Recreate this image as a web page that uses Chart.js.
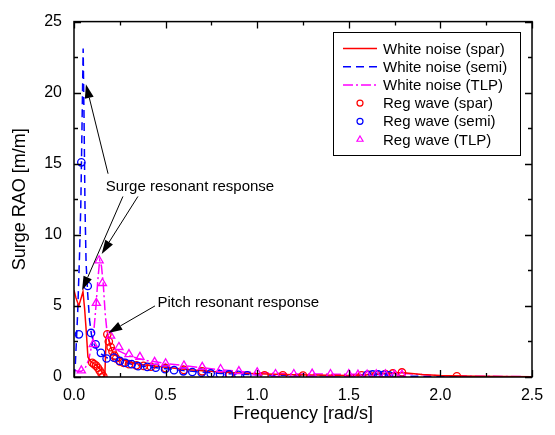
<!DOCTYPE html>
<html>
<head>
<meta charset="utf-8">
<script src="https://cdn.jsdelivr.net/npm/chart.js@4.4.0/dist/chart.umd.min.js"></script>
<style>
html,body{margin:0;padding:0;background:#fff;}
#wrap{width:555px;height:435px;position:relative;}
</style>
</head>
<body>
<div id="wrap"><canvas id="c" width="555" height="435"></canvas></div>
<script>
// ---- data ----
const wnSparFreq = [0,0.01,0.026,0.04,0.049,0.058,0.067,0.076,0.085,0.1,0.12,0.14,0.155,0.163,0.168,0.172,0.176,0.182,0.19,0.2,0.21,0.22,0.24,0.27,0.3,0.35,0.4,0.5,0.6,0.7,0.8,0.9,1.0,1.2,1.4,1.5,1.6,1.65,1.7,1.75,1.8,1.9,2.0,2.2,2.5];
const wnSparVal  = [6.1,5.6,5.0,5.6,6.0,4.8,3.2,1.4,1.2,1.0,0.85,0.6,0.3,0.12,0.0,1.5,2.8,3.0,2.6,2.1,1.8,1.6,1.4,1.2,1.05,0.92,0.82,0.68,0.55,0.44,0.35,0.28,0.22,0.15,0.12,0.1,0.15,0.2,0.25,0.3,0.3,0.18,0.1,0.05,0.02];

const wnSemiFreq = [0,0.007,0.02,0.03,0.037,0.043,0.05,0.055,0.06,0.066,0.075,0.085,0.095,0.11,0.13,0.15,0.18,0.22,0.26,0.3,0.35,0.4,0.5,0.6,0.7,0.8,0.9,1.0,1.2,1.4,1.5,1.6,1.65,1.7,1.75,1.8,2.0,2.2,2.5];
const wnSemiVal  = [0,0.8,4.5,8.5,12,17,23.1,18,12,8,5.8,4.0,3.0,2.3,1.8,1.6,1.35,1.25,1.1,0.95,0.8,0.72,0.58,0.45,0.35,0.25,0.2,0.15,0.1,0.08,0.08,0.15,0.18,0.15,0.1,0.06,0.03,0.02,0.01];

const wnTlpFreq = [0,0.02,0.04,0.06,0.08,0.1,0.11,0.12,0.13,0.14,0.15,0.16,0.17,0.18,0.19,0.2,0.22,0.25,0.3,0.35,0.4,0.5,0.6,0.7,0.8,0.9,1.0,1.2,1.4,1.6,1.8,2.0,2.5];
const wnTlpVal  = [0.5,0.4,0.4,0.6,1.2,2.4,3.5,5.0,6.8,8.2,7.8,6.5,4.5,3.2,2.6,2.3,2.0,1.8,1.5,1.3,1.15,0.95,0.8,0.65,0.5,0.4,0.3,0.22,0.2,0.2,0.25,0.08,0.02];

const rwSparFreq = [0.1,0.11,0.12,0.13,0.14,0.15,0.16,0.182,0.19,0.2,0.21,0.22,0.23,0.25,0.27,0.3,0.34,0.38,0.42,0.5,0.6,0.7,0.85,1.04,1.14,1.25,1.57,1.61,1.65,1.70,1.74,1.79,2.09];
const rwSparVal  = [1.0,0.9,0.8,0.65,0.45,0.25,0.05,3.0,2.5,2.1,1.8,1.5,1.3,1.1,1.0,0.9,0.82,0.78,0.72,0.62,0.5,0.4,0.15,0.12,0.12,0.1,0.12,0.15,0.15,0.2,0.25,0.32,0.05];

const rwSemiFreq = [0.027,0.04,0.075,0.093,0.118,0.147,0.178,0.218,0.25,0.28,0.315,0.35,0.4,0.446,0.497,0.546,0.597,0.646,0.697,0.746,0.797,0.846,0.897,0.946,1.6,1.63,1.66,1.69,1.72];
const rwSemiVal  = [3.0,15.1,6.4,3.1,2.3,1.7,1.3,1.36,1.13,1.0,0.9,0.76,0.71,0.65,0.55,0.48,0.4,0.35,0.3,0.25,0.2,0.18,0.15,0.12,0.15,0.18,0.18,0.15,0.12];

const rwTlpFreq = [0.04,0.105,0.122,0.137,0.155,0.2,0.245,0.3,0.36,0.44,0.5,0.6,0.7,0.8,0.9,1.0,1.1,1.2,1.3,1.4,1.5,1.55,1.6,1.65,1.7,1.75,1.79];
const rwTlpVal  = [0.45,2.3,5.2,8.2,6.6,2.9,2.1,1.6,1.4,1.05,0.95,0.8,0.7,0.55,0.4,0.32,0.2,0.2,0.22,0.2,0.2,0.15,0.15,0.18,0.18,0.15,0.15];

const xTickVals = [0,0.5,1.0,1.5,2.0,2.5];
const xMinorVals = [0.25,0.75,1.25,1.75,2.25];
const yTickVals = [0,5,10,15,20,25];
const yMinorVals = [2.5,7.5,12.5,17.5,22.5];

const seriesLabels = ['White noise (spar)','White noise (semi)','White noise (TLP)','Reg wave (spar)','Reg wave (semi)','Reg wave (TLP)'];
const textSurge = 'Surge resonant response';
const textPitch = 'Pitch resonant response';
// annotation anchors in data coordinates [freq, value]
const surgeTextPos = [0.633, 13.35];
const pitchTextPos = [0.897, 5.2];
const arrows = [
  [[0.186,14.3],[0.065,20.6]],
  [[0.267,12.7],[0.044,6.1]],
  [[0.349,12.7],[0.151,8.66]],
  [[0.442,5.0],[0.187,3.1]]
];

const FONT = "'Liberation Sans', Arial, sans-serif";
const pts = (xs, ys) => xs.map((x,i)=>({x:x,y:ys[i]}));

const RED='#ff0000', BLUE='#0000ff', MAG='#ff00ff';

const datasets = [
  {label:seriesLabels[0], data:pts(wnSparFreq,wnSparVal), showLine:true, borderColor:RED, borderWidth:1.5, pointRadius:0, tension:0, order:3},
  {label:seriesLabels[1], data:pts(wnSemiFreq,wnSemiVal), showLine:true, borderColor:BLUE, borderWidth:1.5, borderDash:[8,5], pointRadius:0, tension:0, order:3},
  {label:seriesLabels[2], data:pts(wnTlpFreq,wnTlpVal), showLine:true, borderColor:MAG, borderWidth:1.5, borderDash:[10,3,2,3], pointRadius:0, tension:0, order:3},
  {label:seriesLabels[3], data:pts(rwSparFreq,rwSparVal), showLine:false, borderColor:RED, backgroundColor:'rgba(0,0,0,0)', pointStyle:'circle', pointRadius:3.7, pointBorderWidth:1.3, order:2},
  {label:seriesLabels[4], data:pts(rwSemiFreq,rwSemiVal), showLine:false, borderColor:BLUE, backgroundColor:'rgba(0,0,0,0)', pointStyle:'circle', pointRadius:3.7, pointBorderWidth:1.3, order:1},
  {label:seriesLabels[5], data:pts(rwTlpFreq,rwTlpVal), showLine:false, borderColor:MAG, backgroundColor:'rgba(0,0,0,0)', pointStyle:'triangle', pointRadius:4.7, pointBorderWidth:1.3, order:0}
];

const framePlugin = {
  id:'frame',
  afterDatasetsDraw(chart){
    const ctx = chart.ctx, a = chart.chartArea, x = chart.scales.x, y = chart.scales.y;
    ctx.save();
    ctx.strokeStyle = '#000'; ctx.lineWidth = 1.5;
    ctx.strokeRect(a.left, a.top, a.right-a.left, a.bottom-a.top);
    ctx.beginPath();
    ctx.lineWidth = 1.3;
    const tickX = (v,len)=>{ const px = Math.round(x.getPixelForValue(v))+0.5;
      ctx.moveTo(px,a.bottom); ctx.lineTo(px,a.bottom-len);
      ctx.moveTo(px,a.top); ctx.lineTo(px,a.top+len); };
    const tickY = (v,len)=>{ const py = Math.round(y.getPixelForValue(v))+0.5;
      ctx.moveTo(a.left,py); ctx.lineTo(a.left+len,py);
      ctx.moveTo(a.right,py); ctx.lineTo(a.right-len,py); };
    xTickVals.forEach(v=>tickX(v,7)); xMinorVals.forEach(v=>tickX(v,4));
    yTickVals.forEach(v=>tickY(v,7)); yMinorVals.forEach(v=>tickY(v,4));
    ctx.stroke();

    // annotations
    ctx.fillStyle = '#000';
    ctx.font = '15px ' + FONT;
    ctx.textAlign = 'center'; ctx.textBaseline = 'middle';
    ctx.fillText(textSurge, x.getPixelForValue(surgeTextPos[0]), y.getPixelForValue(surgeTextPos[1]));
    ctx.fillText(textPitch, x.getPixelForValue(pitchTextPos[0]), y.getPixelForValue(pitchTextPos[1]));
    ctx.lineWidth = 1;
    arrows.forEach(([from,to])=>{
      const x0 = x.getPixelForValue(from[0]), y0 = y.getPixelForValue(from[1]);
      const x1 = x.getPixelForValue(to[0]), y1 = y.getPixelForValue(to[1]);
      const ang = Math.atan2(y1-y0, x1-x0);
      const hl = 14, hw = 4.5;
      const bx = x1 - hl*Math.cos(ang), by = y1 - hl*Math.sin(ang);
      ctx.beginPath(); ctx.moveTo(x0,y0); ctx.lineTo(bx,by); ctx.stroke();
      ctx.beginPath();
      ctx.moveTo(x1,y1);
      ctx.lineTo(bx + hw*Math.sin(ang), by - hw*Math.cos(ang));
      ctx.lineTo(bx - hw*Math.sin(ang), by + hw*Math.cos(ang));
      ctx.closePath(); ctx.fill();
    });

    // legend
    const lx = 333, ly = 32, lw = 187, lh = 123;
    ctx.fillStyle = '#fff';
    ctx.fillRect(lx, ly, lw, lh);
    ctx.strokeStyle = '#000'; ctx.lineWidth = 1;
    ctx.strokeRect(lx+0.5, ly+0.5, lw, lh);
    ctx.textAlign = 'left'; ctx.textBaseline = 'middle';
    ctx.font = '15px ' + FONT;
    chart.data.datasets.forEach((ds,i)=>{
      const ry = ly + 16.5 + i*18.2;
      if (ds.showLine){
        ctx.save();
        ctx.strokeStyle = ds.borderColor; ctx.lineWidth = 1.5;
        ctx.setLineDash(ds.borderDash || []);
        ctx.beginPath(); ctx.moveTo(lx+10, ry); ctx.lineTo(lx+44, ry); ctx.stroke();
        ctx.restore();
      } else {
        ctx.save();
        ctx.strokeStyle = ds.borderColor; ctx.lineWidth = 1.2;
        ctx.beginPath();
        if (ds.pointStyle === 'triangle'){
          const r = 3.5;
          ctx.moveTo(lx+27, ry-r); ctx.lineTo(lx+27+r*0.87, ry+r*0.5); ctx.lineTo(lx+27-r*0.87, ry+r*0.5); ctx.closePath();
        } else {
          ctx.arc(lx+27, ry, 3, 0, Math.PI*2);
        }
        ctx.stroke();
        ctx.restore();
      }
      ctx.fillStyle = '#000';
      ctx.fillText(ds.label, lx+50, ry+1);
    });
    ctx.restore();
  }
};

new Chart(document.getElementById('c'), {
  type:'scatter',
  data:{datasets:datasets},
  options:{
    responsive:false, animation:false,
    layout:{padding:{left:0,right:23,top:16,bottom:0}},
    plugins:{legend:{display:false}, tooltip:{enabled:false}},
    scales:{
      x:{type:'linear', min:0, max:2.5,
        afterBuildTicks:s=>{ s.ticks = xTickVals.map(v=>({value:v})); },
        afterFit:s=>{ s.height = 58; },
        grid:{display:false, drawTicks:false}, border:{display:false},
        ticks:{callback:v=>Number(v).toFixed(1), color:'#000', font:{family:FONT,size:16}, padding:9, maxRotation:0, autoSkip:false},
        title:{display:true, text:'Frequency [rad/s]', color:'#000', font:{family:FONT,size:18}, padding:{top:0,bottom:10}}
      },
      y:{type:'linear', min:0, max:25,
        afterBuildTicks:s=>{ s.ticks = yTickVals.map(v=>({value:v})); },
        afterFit:s=>{ s.width = 74; },
        grid:{display:false, drawTicks:false}, border:{display:false},
        ticks:{callback:v=>String(v), color:'#000', font:{family:FONT,size:16}, padding:12, autoSkip:false},
        title:{display:true, text:'Surge RAO [m/m]', color:'#000', font:{family:FONT,size:18}, padding:{top:9,bottom:0}}
      }
    }
  },
  plugins:[framePlugin]
});
</script>
</body>
</html>
